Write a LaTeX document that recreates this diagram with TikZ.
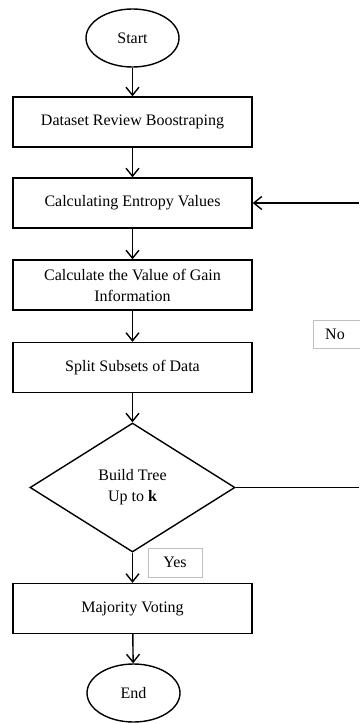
\documentclass[tikz,border=0pt]{standalone}
\usepackage{fontspec}
\setmainfont{Liberation Serif}
\usetikzlibrary{shapes.geometric,arrows.meta}
\begin{document}
\begin{tikzpicture}[x=1pt,y=-1pt,
  font=\fontsize{16}{21}\selectfont,
  every path/.style={line width=1.4pt},
  procbox/.style={draw,line width=1.4pt,minimum width=239pt,minimum height=50pt,inner sep=0pt,align=center},
  term/.style={draw,ellipse,line width=1.4pt,minimum width=93pt,minimum height=58pt,inner sep=0pt},
  decision/.style={draw,diamond,line width=1.4pt,minimum width=205pt,minimum height=129pt,inner sep=0pt,align=center},
  lbl/.style={draw=black!25,line width=0.6pt,inner sep=0pt,align=center},
  flow/.style={-{Straight Barb[length=8pt,width=13pt,line width=1.4pt]},line width=1.4pt}]
\useasboundingbox (0,0) rectangle (359,723);
\node[term] (start) at (132.5,38) {Start};
\node[procbox] (ds) at (132.5,122) {Dataset Review Boostraping};
\node[procbox] (ent) at (132.5,203) {Calculating Entropy Values};
\node[procbox] (gain) at (132.5,285) {Calculate the Value of Gain\\Information};
\node[procbox] (split) at (132.5,367.5) {Split Subsets of Data};
\node[decision] (tree) at (132.5,487.5) {Build Tree\\Up to \textbf{k}};
\node[procbox] (vote) at (132.5,608.5) {Majority Voting};
\node[term] (end) at (133.5,693) {End};
\node[lbl,minimum width=60pt,minimum height=28pt] (no) at (343,334) {\hspace*{-16pt}No};
\node[lbl,minimum width=54pt,minimum height=29pt] (yes) at (175,562.5) {Yes};
\coordinate (rt) at (359,487.5);
\coordinate (re) at (359,203);
\draw[flow] (start) -- (ds);
\draw[flow] (ds) -- (ent);
\draw[flow] (ent) -- (gain);
\draw[flow] (gain) -- (split);
\draw[flow] (split) -- (tree.north);
\draw[flow] (tree.south) -- (vote);
\draw[flow] (vote) -- (end);
\draw (tree.east) -- (rt);
\draw[flow] (re) -- (ent.east);
\end{tikzpicture}
\end{document}
